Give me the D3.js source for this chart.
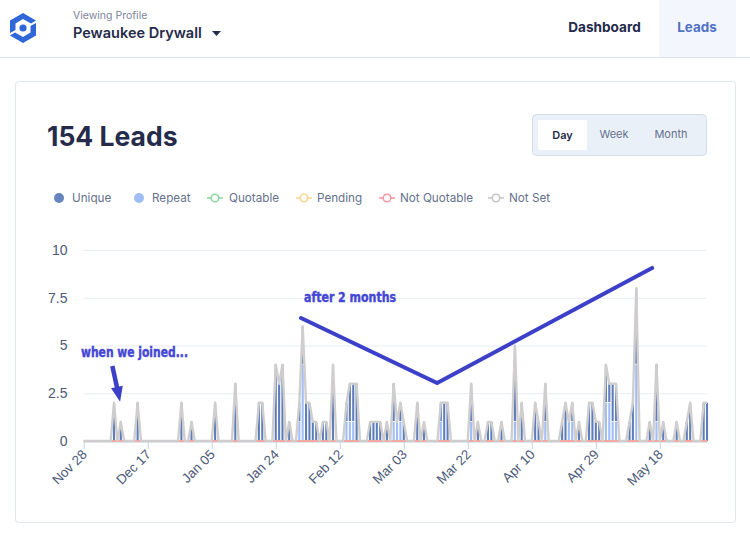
<!DOCTYPE html>
<html><head><meta charset="utf-8">
<script src="https://cdn.jsdelivr.net/npm/d3@7"></script>
<style>
html,body{margin:0;padding:0;background:#fff;overflow:hidden}
svg{display:block}
text{font-family:Inter,"Noto Sans",sans-serif}
svg .sans text{font-family:"Liberation Sans",Arial,sans-serif}
svg text.note{font-family:"DejaVu Sans Condensed","DejaVu Sans",sans-serif}
</style></head><body>
<svg id="c" width="750" height="538"></svg>
<script>
const leadDays   =[9,11,16,29,32,39,45,52,53,57,58,59,61,64,65,66,67,68,69,71,72,74,78,79,80,81,85,86,87,88,90,92,93,94,95,99,101,106,107,108,115,117,120,121,124,128,130,134,135,137,142,143,144,145,147,150,151,152,153,155,156,157,158,162,163,164,168,170,172,176,179,180,184,185];
const totalValues=[2,1,2,2,1,2,3,2,2,4,3,4,1,2,6,2,2,1,1,1,1,4,2,3,3,3,1,1,1,1,1,3,1,2,1,2,1,2,2,2,3,1,1,1,1,5,2,2,1,3,1,2,1,2,1,2,2,1,1,4,3,3,3,1,2,8,1,4,1,1,1,2,2,2];
const repeatDays =[64,65,78,79,80,92,93,94,106,115,128,137,144,145,155,156,157,158,164,170];
const repeatVals =[1,4,1,1,1,1,1,1,1,1,1,1,1,1,2,2,1,1,4,1];
const yTicks=[0,2.5,5,7.5,10];
const xTickDays=[0,19,38,57,76,95,114,133,152,171];
const xTickLabels=["Nov 28","Dec 17","Jan 05","Jan 24","Feb 12","Mar 03","Mar 22","Apr 10","Apr 29","May 18"];
const legendNames=["Unique","Repeat","Quotable","Pending","Not Quotable","Not Set"];
const lastDay=185;
const annotationLine=[[64.5,6.44],[104.9,3.04],[168.7,9.06]];
const annotationArrow=[[8.5,3.93],[10.8,2.06]];

const NAVY="#252b4a", MUTED="#66718c", ACC="#3c40c8";
const svg=d3.select("#c");
const x=d3.scaleLinear().domain([0,lastDay]).range([83.7,707]);
const y=d3.scaleLinear().domain([0,10]).range([441,250]);

/* header */
svg.append("line").attr("x1",0).attr("x2",750).attr("y1",57.5).attr("y2",57.5).attr("stroke","#dfe3ea");
svg.append("rect").attr("x",659).attr("y",0).attr("width",77).attr("height",57).attr("fill","#f3f7fd");
const logo=svg.append("g").attr("transform","translate(23,28)");
const chevron="M-13,5 V-7.5 L0,-15 L13,-7.5 L8,-4.5 L0,-9 L-7.5,-4.5 V2 Z";
logo.append("path").attr("d",chevron).attr("fill","#2f66d8");
logo.append("path").attr("d",chevron).attr("fill","#2f66d8").attr("transform","rotate(180)");
logo.append("circle").attr("r",3.6).attr("fill","#2f66d8");
const t=(s,px,py,size,fill,w,anchor)=>svg.append("text").text(s).attr("x",px).attr("y",py).attr("font-size",size).attr("fill",fill).attr("font-weight",w||400).attr("text-anchor",anchor||"start");
t("Viewing Profile",73,19,10.5,"#7c8499");
t("Pewaukee Drywall",73,37.5,14.5,NAVY,600);
svg.append("path").attr("d","M212,31 h9 l-4.5,5 Z").attr("fill",NAVY);
t("Dashboard",604.5,32,13.6,NAVY,700,"middle");
t("Leads",697,32,13.4,"#5170c6",700,"middle");

/* card */
svg.append("rect").attr("x",15.5).attr("y",81.5).attr("width",720).attr("height",441).attr("rx",3).attr("fill","#fff").attr("stroke","#e1e5ee");
t("154 Leads",47,146,26.5,NAVY,700);
svg.append("rect").attr("x",532.5).attr("y",114.5).attr("width",174).attr("height",41).attr("rx",4).attr("fill","#eaf0f8").attr("stroke","#d3deeb");
svg.append("rect").attr("x",538).attr("y",120).attr("width",49).attr("height",30).attr("rx",1).attr("fill","#fff");
t("Day",562.5,139,11,NAVY,600,"middle");
t("Week",614,138,11,MUTED,400,"middle");
t("Month",671,138,11,MUTED,400,"middle");

/* legend */
const legendX=[59,139,215,304,387,496], legendTextX=[72,152,229,317,400,509];
const colors=["#6684bd","#a0bdf5","#8ddaa0","#ffd592","#f898a5","#c6c6c6"];
legendNames.forEach((n,i)=>{
  if(i<2) svg.append("circle").attr("cx",legendX[i]).attr("cy",198).attr("r",5).attr("fill",colors[i]);
  else{
    svg.append("line").attr("x1",legendX[i]-8).attr("x2",legendX[i]+8).attr("y1",198).attr("y2",198).attr("stroke",colors[i]).attr("stroke-width",1.6);
    svg.append("circle").attr("cx",legendX[i]).attr("cy",198).attr("r",3.8).attr("fill","#fff").attr("stroke",colors[i]).attr("stroke-width",1.6);
  }
  t(n,legendTextX[i],202,11.7,MUTED);
});

/* data */
const days=d3.range(0,lastDay+1);
const totals=new Map(leadDays.map((d,i)=>[d,totalValues[i]]));
const repeats=new Map(repeatDays.map((d,i)=>[d,repeatVals[i]]));
const rows=days.map(d=>{const T=totals.get(d)||0,r=repeats.get(d)||0;return{d,total:T,repeat:r,unique:T-r};});

/* axes */
const gy=svg.append("g").attr("class","sans").attr("transform","translate(83.5,0)")
  .call(d3.axisLeft(y).tickValues(yTicks).tickSize(-622.5).tickPadding(16).tickFormat(d3.format("~g")));
gy.select(".domain").remove();
gy.selectAll(".tick line").attr("stroke","#e7edf2");
gy.selectAll(".tick text").attr("font-size",14).attr("fill","#4c5a78");
gy.selectAll(".tick").filter(d=>d===0).select("line").remove();

/* bars */
const bw=2.1;
svg.append("g").selectAll("rect").data(rows.filter(r=>r.repeat>0)).join("rect")
  .attr("x",r=>x(r.d)-bw/2).attr("width",bw).attr("y",r=>y(r.repeat)).attr("height",r=>y(0)-y(r.repeat)).attr("fill","#a0bdf5");
svg.append("g").selectAll("rect").data(rows.filter(r=>r.unique>0)).join("rect")
  .attr("x",r=>x(r.d)-bw/2).attr("width",bw).attr("y",r=>y(r.total)).attr("height",r=>y(r.repeat)-y(r.total)-(r.repeat?0.8:0)).attr("fill","#5f7eb9");

const gx=svg.append("g").attr("class","sans").attr("transform","translate(0,441)")
  .call(d3.axisBottom(x).tickValues(xTickDays).tickSize(8).tickSizeOuter(0).tickFormat((d,i)=>xTickLabels[i]));
gx.select(".domain").attr("stroke","#c6d1e0").attr("stroke-width",2);
gx.selectAll(".tick line").attr("stroke","#c6d1e0");
gx.selectAll(".tick text").attr("font-size",13.4).attr("fill","#4c5a78")
  .attr("text-anchor","end").attr("dx",-7.7).attr("dy",1.6).attr("transform","rotate(-45)");

/* lines */
const zero=d3.line().x(r=>x(r.d)).y(()=>y(0));
["#8ddaa0","#ffd592","#f898a5"].forEach(c=>svg.append("path").datum(rows).attr("d",zero).attr("fill","none").attr("stroke",c).attr("stroke-width",1.6));
svg.append("path").datum(rows).attr("d",d3.line().x(r=>x(r.d)).y(r=>y(r.total)))
  .attr("fill","none").attr("stroke","#cfcdcd").attr("stroke-width",2.4).attr("stroke-linejoin","round");

/* annotations */
svg.append("path").datum(annotationLine).attr("d",d3.line().x(p=>x(p[0])).y(p=>y(p[1])))
  .attr("fill","none").attr("stroke",ACC).attr("stroke-width",4).attr("stroke-linecap","round").attr("stroke-linejoin","miter");
const a0=annotationArrow[0],a1=annotationArrow[1];
const ax0=x(a0[0]),ay0=y(a0[1]),ax1=x(a1[0]),ay1=y(a1[1]);
const ang=Math.atan2(ay1-ay0,ax1-ax0);
svg.append("line").attr("x1",ax0).attr("y1",ay0).attr("x2",ax1-8*Math.cos(ang)).attr("y2",ay1-8*Math.sin(ang)).attr("stroke",ACC).attr("stroke-width",4.5);
svg.append("path").attr("d",`M0,0 L-15,-6 L-15,6 Z`).attr("fill",ACC)
  .attr("transform",`translate(${ax1},${ay1}) rotate(${ang*180/Math.PI})`);
const note=(s,px,py,len)=>svg.append("text").attr("class","note").text(s).attr("x",px).attr("y",py)
  .attr("font-size",13.5).attr("font-weight",700).attr("fill","#4447d4").attr("stroke","#4447d4").attr("stroke-width",.4)
  .attr("textLength",len).attr("lengthAdjust","spacingAndGlyphs");
note("when we joined...",81,357,107);
note("after 2 months",304,302,92);
</script>
</body></html>
